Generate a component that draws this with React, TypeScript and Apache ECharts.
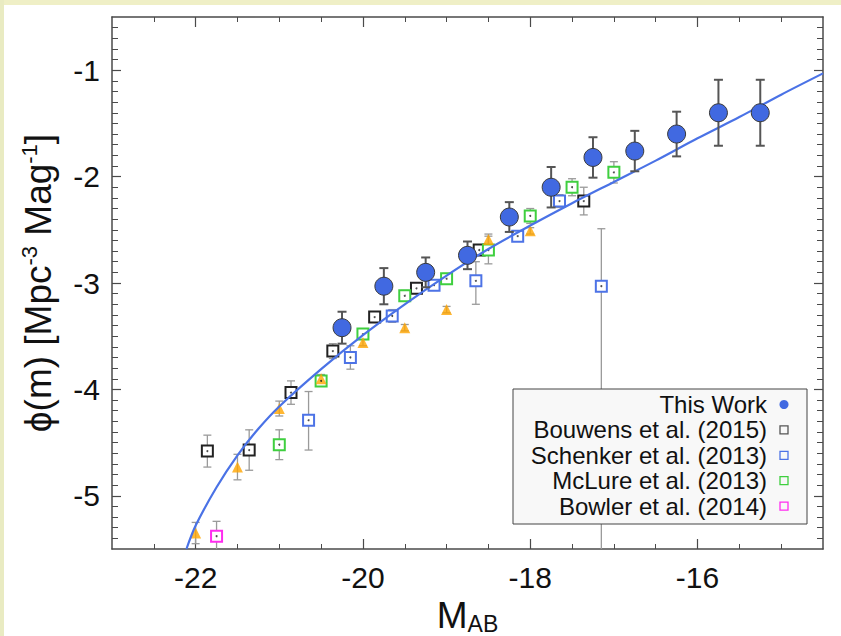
import React, { useEffect, useRef } from "react";
import * as echarts from "echarts";

// ---- UV luminosity function data (M_AB, log10 phi, errors) ----
const thisWorkM = [-20.25, -19.75, -19.25, -18.75, -18.25, -17.75, -17.25, -16.75, -16.25, -15.75, -15.25];
const thisWorkPhi = [-3.42, -3.03, -2.90, -2.74, -2.38, -2.10, -1.82, -1.76, -1.60, -1.40, -1.40];
const thisWorkErr = [0.15, 0.17, 0.14, 0.13, 0.14, 0.19, 0.19, 0.19, 0.21, 0.31, 0.31];

const bouwensM = [-21.86, -21.36, -20.86, -20.36, -19.86, -19.36, -18.61, -17.36];
const bouwensPhi = [-4.58, -4.57, -4.03, -3.64, -3.32, -3.05, -2.69, -2.23];
const bouwensErr = [0.15, 0.19, 0.11, 0.07, 0.05, 0.04, 0.05, 0.13];

const schenkerM = [-20.65, -20.15, -19.65, -19.15, -18.65, -18.15, -17.65, -17.15];
const schenkerPhi = [-4.29, -3.70, -3.31, -3.02, -2.98, -2.56, -2.23, -3.03];
const schenkerErrLo = [0.28, 0.11, 0.06, 0.05, 0.22, 0.03, 0.06, 3.0];
const schenkerErrHi = [0.27, 0.11, 0.06, 0.05, 0.18, 0.03, 0.06, 0.54];

const mclureM = [-21.0, -20.5, -20.0, -19.5, -19.0, -18.5, -18.0, -17.5, -17.0];
const mclurePhi = [-4.52, -3.92, -3.48, -3.12, -2.96, -2.69, -2.37, -2.10, -1.96];
const mclureErr = [0.14, 0.05, 0.05, 0.05, 0.05, 0.13, 0.07, 0.08, 0.1];

const bowlerM = [-21.75];
const bowlerPhi = [-5.38];
const bowlerErrLo = [0.5];
const bowlerErrHi = [0.14];

const triangleM = [-22.0, -21.5, -21.0, -20.5, -20.0, -19.5, -19.0, -18.5, -18.0];
const trianglePhi = [-5.35, -4.73, -4.18, -3.90, -3.56, -3.42, -3.25, -2.59, -2.51];
const triangleErr = [0.1, 0.12, 0.07, 0.04, 0.03, 0.03, 0.03, 0.05, 0.03];

// Best-fit Schechter curve, sampled
const fitM = [-22.11, -22.0, -21.75, -21.5, -21.25, -21.0, -20.5, -20.0, -19.5, -19.0, -18.5, -18.0, -17.5, -17.0, -16.5, -16.0, -15.5, -15.0, -14.5];
const fitPhi = [-5.5, -5.28, -4.92, -4.62, -4.37, -4.16, -3.81, -3.49, -3.20, -2.93, -2.68, -2.46, -2.25, -2.05, -1.85, -1.64, -1.44, -1.23, -1.03];

const legendNames = [
  "This Work",
  "Bouwens et al. (2015)",
  "Schenker et al. (2013)",
  "McLure et al. (2013)",
  "Bowler et al. (2014)",
];

// Axis ticks
const X_MIN = -23;
const X_MAX = -14.5;
const Y_MIN = -5.5;
const Y_MAX = -0.5;
const xMajor = [-22, -20, -18, -16];
const yMajor = [-5, -4, -3, -2, -1];

const xMinor: number[] = [];
for (let k = -45; k <= -30; k++) {
  const v = k / 2;
  if (!xMajor.includes(v)) xMinor.push(v);
}
const yMinor: number[] = [];
for (let k = -54; k <= -6; k++) {
  if (k % 10 !== 0) yMinor.push(k / 10);
}

const FONT = "'Liberation Sans', Arial, Helvetica, sans-serif";
const AXIS_COLOR = "#4a4a4a";

const C_THIS = "#4169e1";
const C_BOUW = "#222222";
const C_SCH = "#4d73e6";
const C_MCL = "#3fcf3f";
const C_BOW = "#ff2cf0";
const C_TRI = "#ffa500";

function pairs(xs: number[], ys: number[]) {
  return xs.map((x, i) => [x, ys[i]]);
}

function errData(xs: number[], ys: number[], lo: number[], hi: number[]) {
  return xs.map((x, i) => [x, ys[i], lo[i], hi[i]]);
}

function errorBars(name: string, data: number[][], color: string, width: number, cap: number, z: number) {
  return {
    name,
    type: "custom",
    z,
    silent: true,
    data,
    encode: { x: 0, y: 1 },
    renderItem: (_params: any, api: any) => {
      const x = api.value(0);
      const y = api.value(1);
      const loV = y - api.value(2);
      const hiV = y + api.value(3);
      const lo = Math.max(loV, Y_MIN);
      const hi = Math.min(hiV, Y_MAX);
      const pTop = api.coord([x, hi]);
      const pBot = api.coord([x, lo]);
      const style = { stroke: color, lineWidth: width };
      const children: any[] = [
        { type: "line", shape: { x1: pTop[0], y1: pTop[1], x2: pBot[0], y2: pBot[1] }, style },
      ];
      if (hi === hiV) {
        children.push({ type: "line", shape: { x1: pTop[0] - cap / 2, y1: pTop[1], x2: pTop[0] + cap / 2, y2: pTop[1] }, style });
      }
      if (lo === loV) {
        children.push({ type: "line", shape: { x1: pBot[0] - cap / 2, y1: pBot[1], x2: pBot[0] + cap / 2, y2: pBot[1] }, style });
      }
      return { type: "group", children };
    },
  };
}

function squares(name: string, data: number[][], color: string) {
  return {
    name,
    type: "scatter",
    z: 3,
    data,
    symbol: "rect",
    symbolSize: 11,
    itemStyle: { color: "#ffffff", borderColor: color, borderWidth: 2, opacity: 1 },
  };
}

function dots(data: number[][]) {
  return {
    type: "scatter",
    z: 4,
    silent: true,
    data,
    symbol: "circle",
    symbolSize: 2,
    itemStyle: { color: "#222" },
  };
}

function majorMinorAxes(dim: "x" | "y") {
  const isX = dim === "x";
  const base = {
    type: "value",
    min: isX ? X_MIN : Y_MIN,
    max: isX ? X_MAX : Y_MAX,
    splitLine: { show: false },
    axisLine: { onZero: false, lineStyle: { color: AXIS_COLOR, width: 1.5 } },
  };
  const major = isX ? xMajor : yMajor;
  const minor = isX ? xMinor : yMinor;
  const sides = isX ? ["bottom", "top"] : ["left", "right"];
  const axes: any[] = [];
  sides.forEach((pos, si) => {
    axes.push({
      ...base,
      position: pos,
      axisTick: { show: true, inside: true, length: isX ? 10 : 9, customValues: major, lineStyle: { color: AXIS_COLOR, width: 1.2 } },
      axisLabel: si === 0
        ? { show: true, customValues: major, fontSize: 30, fontFamily: FONT, color: "#111", margin: isX ? 13 : 12 }
        : { show: false },
      ...(si === 0 && isX
        ? {
            name: "{t|M}{s|AB}",
            nameLocation: "middle",
            nameGap: 44,
            nameTextStyle: {
              rich: {
                t: { fontSize: 37, fontFamily: FONT, color: "#111", lineHeight: 40 },
                s: { fontSize: 23, fontFamily: FONT, color: "#111", verticalAlign: "bottom", lineHeight: 26 },
              },
            },
          }
        : {}),
      ...(si === 0 && !isX
        ? {
            name: "{t|\u03d5(m) [Mpc}{s|-3}{t| Mag}{s|-1}{t|]}",
            nameLocation: "middle",
            nameRotate: 90,
            nameGap: 54,
            nameTextStyle: {
              rich: {
                t: { fontSize: 37, fontFamily: FONT, color: "#111", lineHeight: 40 },
                s: { fontSize: 22, fontFamily: FONT, color: "#111", verticalAlign: "top", lineHeight: 24 },
              },
            },
          }
        : {}),
    });
    axes.push({
      ...base,
      position: pos,
      axisLine: { show: false },
      axisTick: { show: true, inside: true, length: isX ? 5 : 6, customValues: minor, lineStyle: { color: AXIS_COLOR, width: 1 } },
      axisLabel: { show: false },
    });
  });
  return axes;
}

function legendGraphic() {
  const boxX = 513;
  const boxY = 389;
  const boxW = 294;
  const boxH = 135;
  const rowY = (i: number) => boxY + 15.5 + i * 25.4;
  const textRight = 767;
  const iconX = 784;
  const iconColors = [C_THIS, "#555555", C_SCH, C_MCL, C_BOW];
  const els: any[] = [
    {
      type: "rect",
      shape: { x: boxX, y: boxY, width: boxW, height: boxH },
      style: { fill: "#f8f8f8", stroke: "#444", lineWidth: 1 },
      z: 100,
    },
  ];
  legendNames.forEach((name, i) => {
    els.push({
      type: "text",
      x: textRight,
      y: rowY(i),
      style: { text: name, fontSize: 24, fontFamily: FONT, fill: "#111", align: "right", verticalAlign: "middle" },
      z: 101,
    });
    if (i === 0) {
      els.push({ type: "circle", shape: { cx: iconX, cy: rowY(i), r: 4.5 }, style: { fill: iconColors[i] }, z: 101 });
    } else {
      els.push({
        type: "rect",
        shape: { x: iconX - 4, y: rowY(i) - 4, width: 8, height: 8 },
        style: { fill: "none", stroke: iconColors[i], lineWidth: 1.3 },
        z: 101,
      });
    }
  });
  return els;
}

export default function App() {
  const ref = useRef<HTMLDivElement>(null);

  useEffect(() => {
    if (!ref.current) return;
    const chart = echarts.init(ref.current, undefined, { renderer: "svg" });

    const bouwPts = pairs(bouwensM, bouwensPhi);
    const schPts = pairs(schenkerM, schenkerPhi);
    const mclPts = pairs(mclureM, mclurePhi);
    const bowPts = pairs(bowlerM, bowlerPhi);

    const option: any = {
      animation: false,
      backgroundColor: "#ffffff",
      grid: { left: 112, right: 18, top: 17, bottom: 87, containLabel: false, outerBoundsMode: "none" },
      xAxis: majorMinorAxes("x"),
      yAxis: majorMinorAxes("y"),
      graphic: [
        { type: "rect", shape: { x: 0, y: 0, width: 841, height: 5 }, style: { fill: "#efefc6" }, z: 0 },
        { type: "rect", shape: { x: 0, y: 0, width: 4, height: 636 }, style: { fill: "#e9ebc2" }, z: 0 },
        ...legendGraphic(),
      ],
      series: [
        errorBars("bouwErr", errData(bouwensM, bouwensPhi, bouwensErr, bouwensErr), "#9a9a9a", 1.3, 8, 2),
        errorBars("schErr", errData(schenkerM, schenkerPhi, schenkerErrLo, schenkerErrHi), "#9a9a9a", 1.3, 8, 2),
        errorBars("mclErr", errData(mclureM, mclurePhi, mclureErr, mclureErr), "#9a9a9a", 1.3, 8, 2),
        errorBars("bowErr", errData(bowlerM, bowlerPhi, bowlerErrLo, bowlerErrHi), "#9a9a9a", 1.3, 8, 2),
        errorBars("triErr", errData(triangleM, trianglePhi, triangleErr, triangleErr), "#9a9a9a", 1.3, 8, 2),
        squares(legendNames[1], bouwPts, C_BOUW),
        squares(legendNames[2], schPts, C_SCH),
        squares(legendNames[3], mclPts, C_MCL),
        squares(legendNames[4], bowPts, C_BOW),
        dots([...bouwPts, ...schPts, ...mclPts, ...bowPts]),
        {
          name: "triangles",
          type: "scatter",
          z: 3,
          data: pairs(triangleM, trianglePhi),
          symbol: "triangle",
          symbolSize: 11,
          itemStyle: { color: C_TRI },
        },
        {
          name: "fit",
          type: "line",
          z: 5,
          data: pairs(fitM, fitPhi),
          smooth: 0.3,
          showSymbol: false,
          symbol: "none",
          clip: true,
          lineStyle: { color: "#4a72e6", width: 2.2 },
        },
        errorBars("thisErr", errData(thisWorkM, thisWorkPhi, thisWorkErr, thisWorkErr), "#555555", 2, 9, 6),
        {
          name: legendNames[0],
          type: "scatter",
          z: 7,
          data: pairs(thisWorkM, thisWorkPhi),
          symbol: "circle",
          symbolSize: 18,
          itemStyle: { color: C_THIS, borderColor: "#3a3a3a", borderWidth: 1, opacity: 1 },
        },
      ],
    };

    chart.setOption(option);
    return () => chart.dispose();
  }, []);

  return (
    <div
      ref={ref}
      style={{ position: "absolute", left: 0, top: 0, width: 841, height: 636 }}
    />
  );
}
